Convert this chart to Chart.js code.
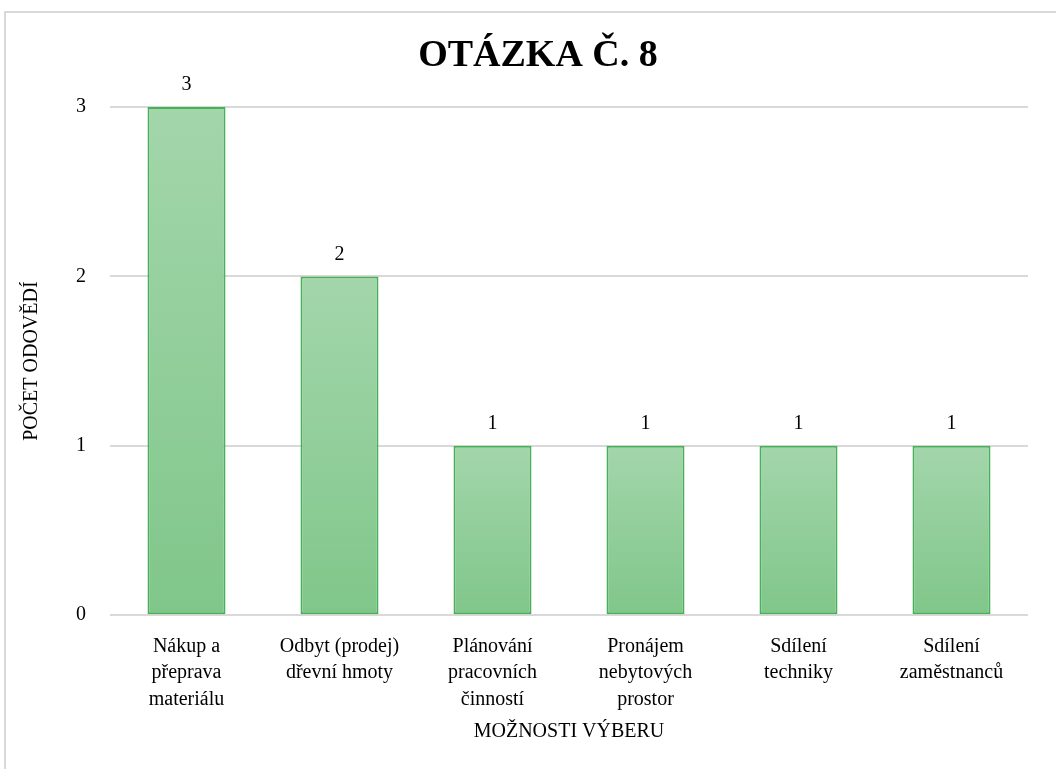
<!DOCTYPE html>
<html><head><meta charset="utf-8">
<script src="https://cdn.jsdelivr.net/npm/chart.js@4.4.0/dist/chart.umd.min.js"></script>
<style>
html,body{margin:0;padding:0;background:#fff;overflow:hidden;}
#frame{position:absolute;left:4px;top:11px;width:1100px;height:800px;border:2px solid #d9d9d9;box-sizing:border-box;}
#wrap{position:absolute;left:0;top:0;width:1056px;height:769px;}
</style></head>
<body>
<div id="frame"></div>
<div id="wrap"><canvas id="c" width="1056" height="769"></canvas></div>
<script>
const categories = [
  ["Nákup a","přeprava","materiálu"],
  ["Odbyt (prodej)","dřevní hmoty"],
  ["Plánování","pracovních","činností"],
  ["Pronájem","nebytových","prostor"],
  ["Sdílení","techniky"],
  ["Sdílení","zaměstnanců"]
];
const values = [3, 2, 1, 1, 1, 1];
const yTicks = [0, 1, 2, 3];
const titleText = "OTÁZKA Č. 8";
const yTitle = "POČET ODOVĚDÍ";
const xTitle = "MOŽNOSTI VÝBERU";

const FONT = "'Liberation Serif','Times New Roman',serif";

const valueLabels = {
  id: 'valueLabels',
  afterDatasetsDraw(chart) {
    const ctx = chart.ctx;
    const meta = chart.getDatasetMeta(0);
    ctx.save();
    ctx.fillStyle = '#000';
    ctx.font = "20px " + FONT;
    ctx.textAlign = 'center';
    ctx.textBaseline = 'bottom';
    meta.data.forEach((bar, i) => {
      ctx.fillText(String(values[i]), bar.x, bar.y - 12);
    });
    ctx.restore();
  }
};

const chartTitle = {
  id: 'chartTitle',
  afterDraw(chart) {
    const ctx = chart.ctx;
    ctx.save();
    ctx.fillStyle = '#000';
    ctx.font = "bold 38px " + FONT;
    ctx.textAlign = 'center';
    ctx.textBaseline = 'middle';
    ctx.fillText(titleText, 538, 56);
    ctx.restore();
  }
};

new Chart(document.getElementById('c'), {
  type: 'bar',
  data: {
    labels: categories,
    datasets: [{
      data: values,
      backgroundColor(context) {
        const chart = context.chart;
        const ys = chart.scales.y;
        if (!ys || !chart.chartArea) return '#90cd99';
        const v = values[context.dataIndex];
        const top = ys.getPixelForValue(v);
        const bottom = ys.getPixelForValue(0);
        if (!isFinite(top) || !isFinite(bottom) || top === bottom) return '#90cd99';
        const g = chart.ctx.createLinearGradient(0, top, 0, bottom);
        g.addColorStop(0, '#a3d6ab');
        g.addColorStop(1, '#80c68a');
        return g;
      },
      borderColor: '#47b058',
      borderWidth: 2,
      borderSkipped: false,
      barPercentage: 0.51,
      categoryPercentage: 1.0
    }]
  },
  options: {
    responsive: false,
    animation: false,
    devicePixelRatio: 1,
    layout: { padding: { left: 20, right: 28, top: 107, bottom: 25 } },
    plugins: {
      legend: { display: false },
      tooltip: { enabled: false },
      title: { display: false }
    },
    scales: {
      x: {
        grid: { display: false, drawTicks: false },
        border: { display: false },
        ticks: {
          color: '#000',
          font: { family: FONT, size: 20, lineHeight: 1.33 },
          padding: 18,
          maxRotation: 0,
          autoSkip: false
        },
        title: {
          display: true,
          text: xTitle,
          color: '#000',
          font: { family: FONT, size: 20 },
          padding: { top: -11, bottom: 0 }
        }
      },
      y: {
        min: 0,
        max: 3,
        afterBuildTicks(scale) { scale.ticks = yTicks.map(v => ({ value: v })); },
        grid: { color: '#d9d9d9', lineWidth: 2, drawTicks: false },
        border: { display: false },
        ticks: {
          color: '#000',
          font: { family: FONT, size: 20 },
          padding: 24
        },
        title: {
          display: true,
          text: yTitle,
          color: '#000',
          font: { family: FONT, size: 20 },
          padding: { top: 0, bottom: 8 }
        }
      }
    }
  },
  plugins: [valueLabels, chartTitle]
});
</script>
</body></html>
